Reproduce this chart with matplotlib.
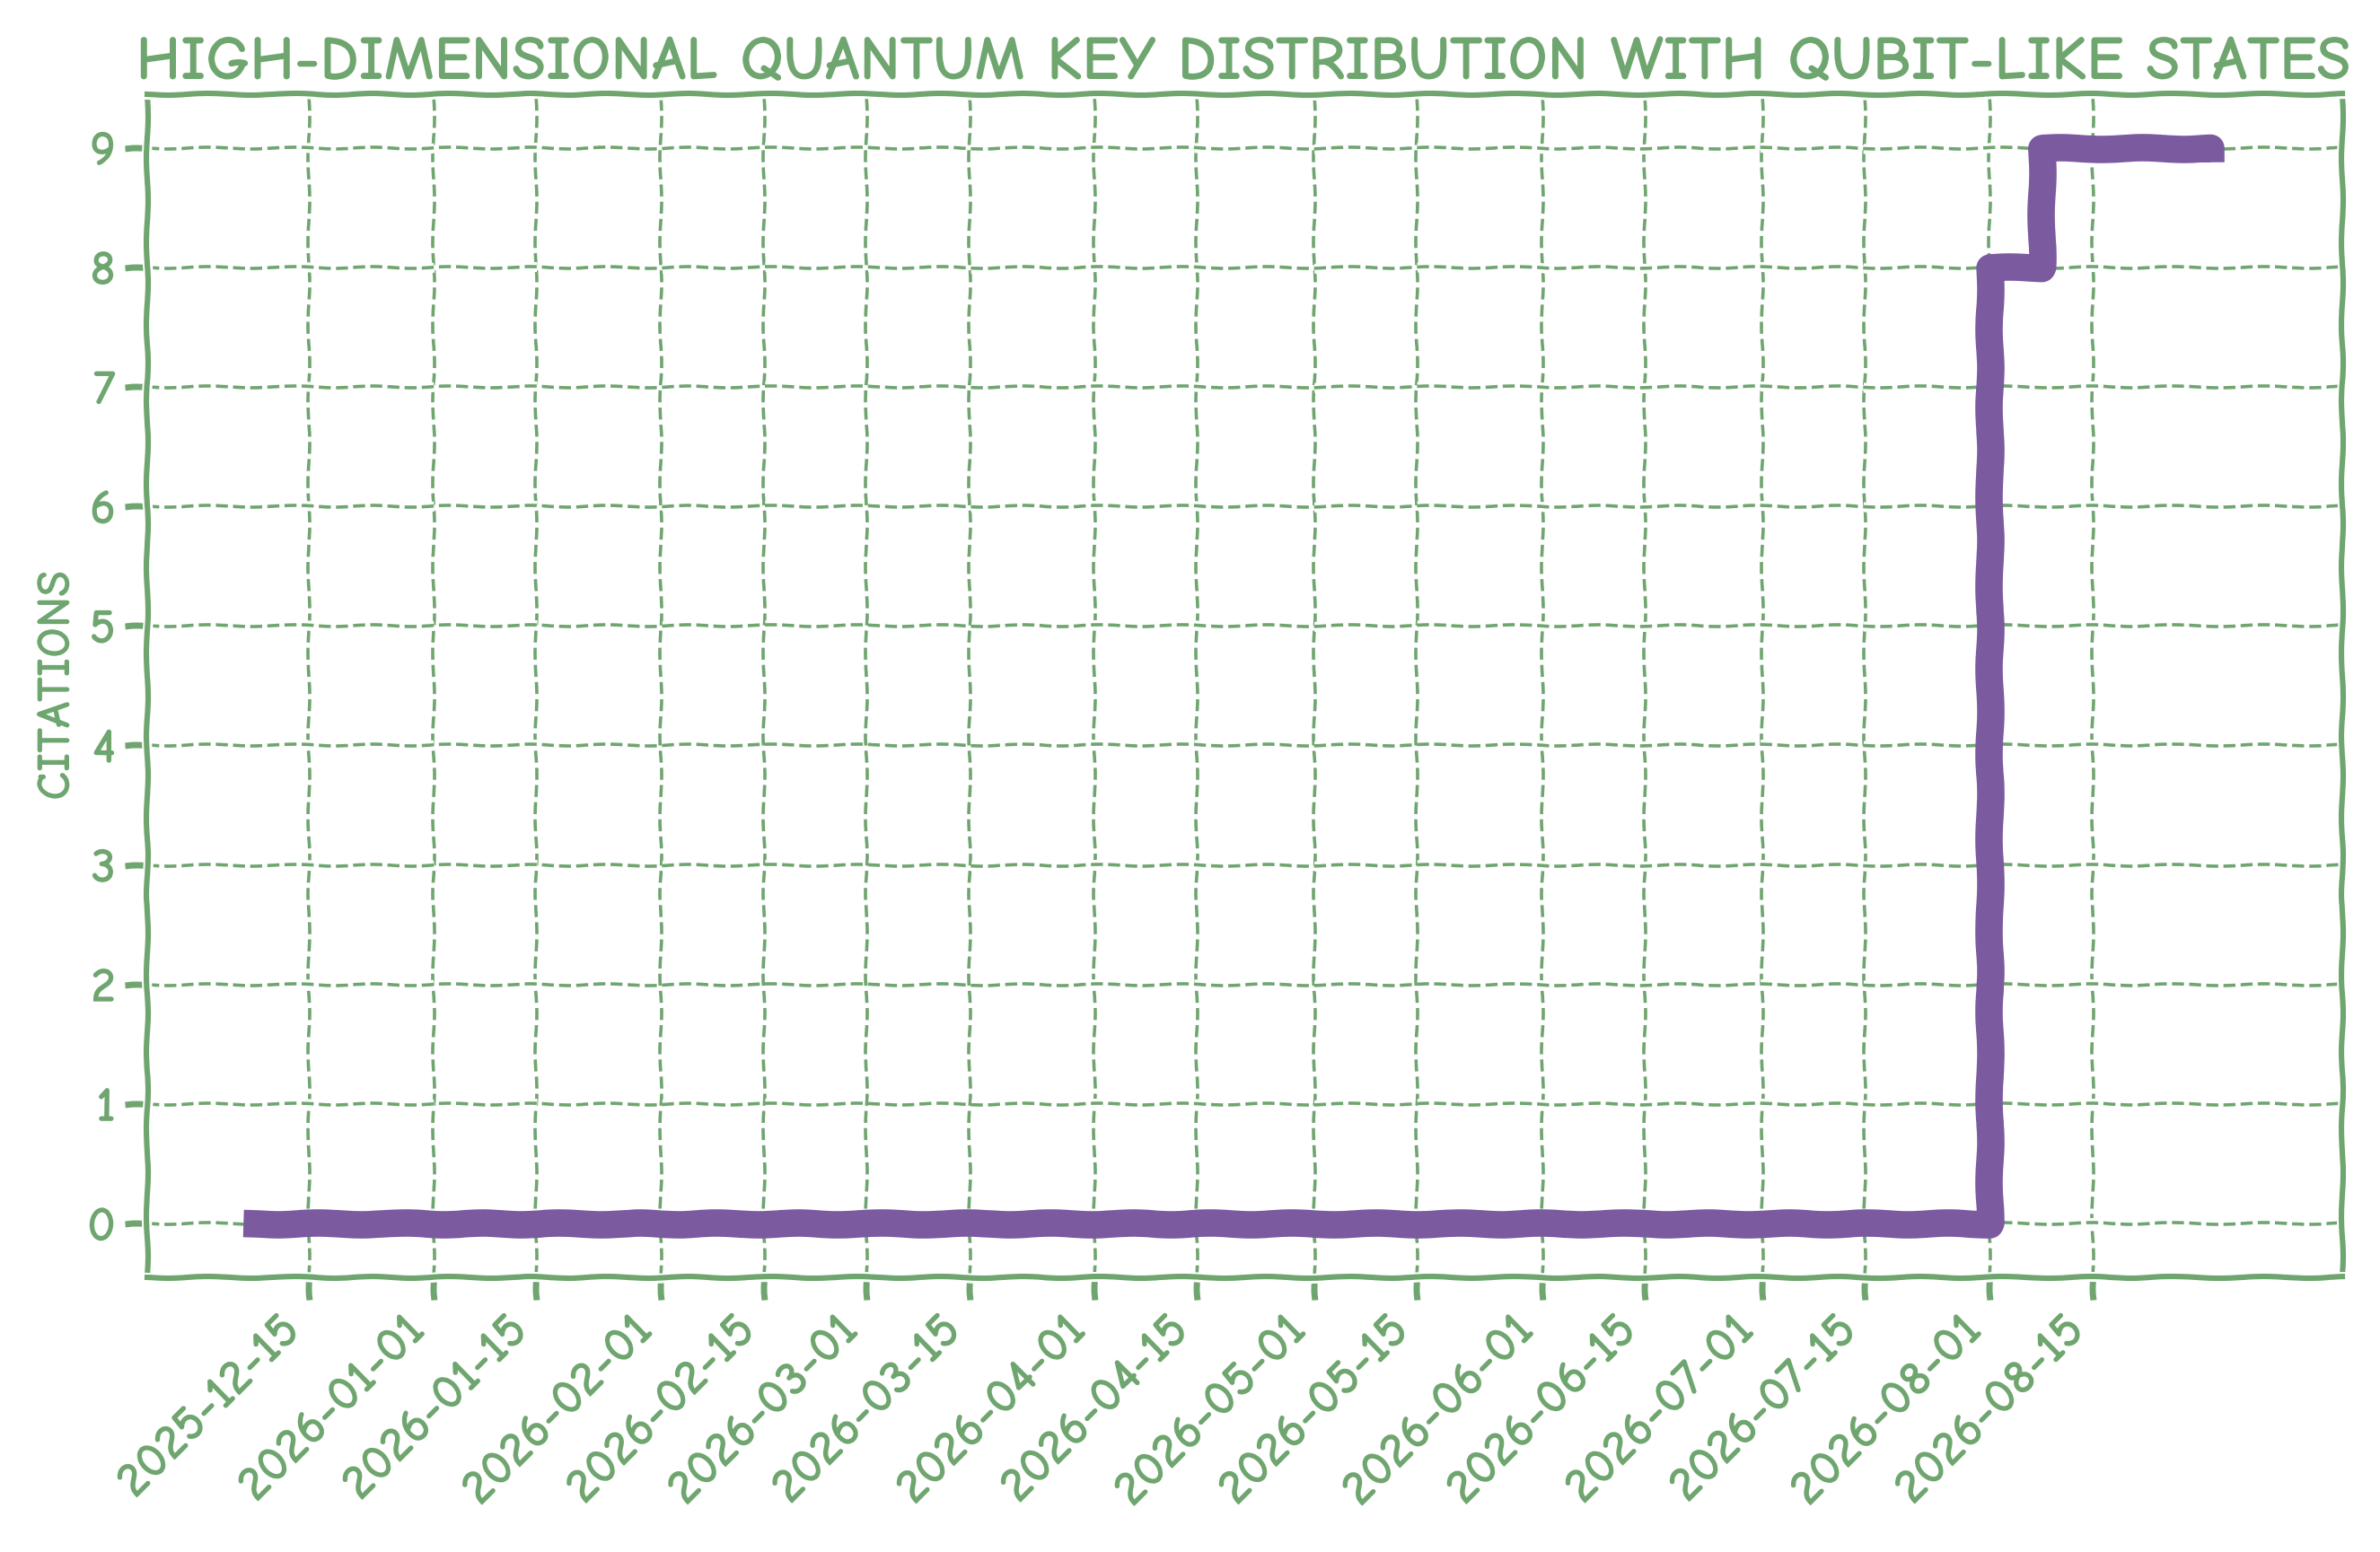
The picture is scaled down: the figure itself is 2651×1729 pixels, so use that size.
import pandas as pd
import matplotlib.pyplot as plt
import matplotlib.dates as mdates

# Citation history (step data)
dates = ["2025-12-08", "2026-08-01", "2026-08-08", "2026-08-31"]
citations = [0, 8, 9, 9]
tick_dates = ["2025-12-15", "2026-01-01", "2026-01-15", "2026-02-01", "2026-02-15",
              "2026-03-01", "2026-03-15", "2026-04-01", "2026-04-15", "2026-05-01",
              "2026-05-15", "2026-06-01", "2026-06-15", "2026-07-01", "2026-07-15",
              "2026-08-01", "2026-08-15"]

green = "#6fa56f"
purple = "#7b5aa0"

plt.xkcd()
plt.rcParams['font.family'] = ['Comic Neue', 'Humor Sans', 'DejaVu Sans']
plt.rcParams['font.weight'] = 'bold'

x = pd.to_datetime(dates)
fig, ax = plt.subplots(figsize=(13.255, 8.645), dpi=200)
ax.step(x, citations, where="post", color=purple, linewidth=11)

ax.set_xticks(pd.to_datetime(tick_dates))
ax.xaxis.set_major_formatter(mdates.DateFormatter("%Y-%m-%d"))
plt.setp(ax.get_xticklabels(), rotation=45, ha="right")
ax.set_yticks(range(10))
ax.set_ylim(-0.45, 9.45)
ax.set_xlim(pd.Timestamp("2025-11-23"), pd.Timestamp("2026-09-18"))

ax.grid(True, linestyle="--", color=green, linewidth=1.3)
for s in ax.spines.values():
    s.set_color(green)
    s.set_linewidth(2.2)
ax.tick_params(colors=green, labelsize=20, width=2.5, length=9)
for t in ax.get_xticklabels() + ax.get_yticklabels():
    t.set_fontweight('bold')
ax.set_ylabel("CITATIONS", color=green, fontsize=19, fontweight='bold')
ax.set_title("HIGH-DIMENSIONAL QUANTUM KEY DISTRIBUTION WITH QUBIT-LIKE STATES",
             color=green, fontsize=25, fontweight='bold')

plt.tight_layout()
plt.savefig("out.png")
